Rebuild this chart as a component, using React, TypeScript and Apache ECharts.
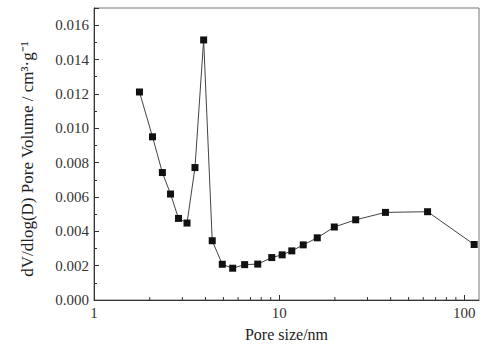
import React, { useEffect, useRef } from "react";
import * as echarts from "echarts";

const poreSize = [1.76, 2.07, 2.34, 2.59, 2.86, 3.18, 3.51, 3.91, 4.35, 4.93, 5.61, 6.51, 7.66, 9.12, 10.38, 11.7, 13.49, 16.06, 19.85, 25.9, 37.5, 63.3, 113];
const poreVolume = [0.01211, 0.0095, 0.00742, 0.00617, 0.00475, 0.00448, 0.00771, 0.01514, 0.00345, 0.00208, 0.00185, 0.00206, 0.00209, 0.00247, 0.00263, 0.00286, 0.00321, 0.00362, 0.00425, 0.00467, 0.0051, 0.00514, 0.00323];
const xMinorTicks = [2, 3, 4, 5, 6, 7, 8, 9, 20, 30, 40, 50, 60, 70, 80, 90];

export default function App() {
  const ref = useRef<HTMLDivElement>(null);
  useEffect(() => {
    if (!ref.current) return;
    const chart = echarts.init(ref.current, null, { renderer: "svg" });
    const font = "Liberation Serif";
    chart.setOption({
      animation: false,
      backgroundColor: "#ffffff",
      textStyle: { fontFamily: font },
      grid: {
        left: 94, right: 21, top: 8, bottom: 55,
        show: true, borderColor: "#777", borderWidth: 1, backgroundColor: "transparent",
      },
      xAxis: {
        type: "log",
        logBase: 10,
        min: 1,
        max: 120,
        name: "Pore size/nm",
        nameLocation: "middle",
        nameGap: 26,
        nameTextStyle: { fontFamily: font, fontSize: 16, color: "#222" },
        axisLine: { show: true, lineStyle: { color: "#333", width: 1 } },
        axisTick: { show: true, inside: true, length: 5, lineStyle: { color: "#333" } },
        axisLabel: { fontFamily: font, fontSize: 15, color: "#333", margin: 5, formatter: (v: number) => String(Math.round(v)) },
        splitLine: { show: false },
      },
      yAxis: {
        type: "value",
        min: 0,
        max: 0.017,
        interval: 0.002,
        name: "dV/dlog(D) Pore Volume / cm³·g⁻¹",
        nameLocation: "middle",
        nameGap: 58,
        nameTextStyle: { fontFamily: font, fontSize: 17, color: "#222", padding: [0, 10, 0, 0] },
        axisLine: { show: true, lineStyle: { color: "#333", width: 1 } },
        axisTick: { show: true, inside: true, length: 5, lineStyle: { color: "#333" } },
        minorTick: { show: true, splitNumber: 2, length: 3, lineStyle: { color: "#333" } },
        axisLabel: {
          fontFamily: font, fontSize: 15, color: "#333", margin: 5,
          formatter: (v: number) => (v > 0.0165 ? "" : v.toFixed(3)),
        },
        splitLine: { show: false },
      },
      series: [
        {
          type: "line",
          data: poreSize.map((x, i) => [x, poreVolume[i]]),
          symbol: "rect",
          symbolSize: 7,
          itemStyle: { color: "#111" },
          lineStyle: { color: "#444", width: 1 },
        },
        {
          type: "custom",
          silent: true,
          clip: false,
          data: xMinorTicks.map((x) => [x, 0]),
          renderItem: (params: any, api: any) => {
            const p = api.coord([api.value(0), api.value(1)]);
            return {
              type: "line",
              shape: { x1: p[0], y1: p[1], x2: p[0], y2: p[1] - 3 },
              style: { stroke: "#333", lineWidth: 1 },
            };
          },
        },
      ],
    });
    return () => chart.dispose();
  }, []);
  return <div ref={ref} style={{ position: "fixed", left: 0, top: 0, width: 500, height: 355 }} />;
}
